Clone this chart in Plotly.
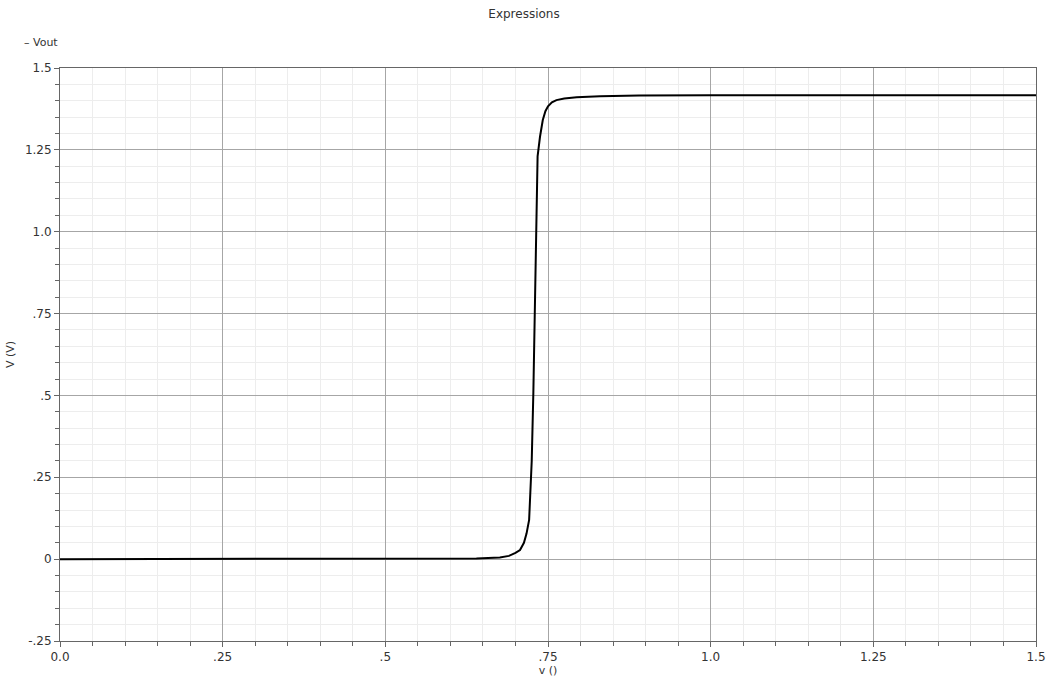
import plotly.graph_objects as go

# Data (DC sweep, Vout vs v)
series_name = "Vout"
x_vals = [0.0, 0.10, 0.20, 0.30, 0.40, 0.50, 0.60, 0.64, 0.676, 0.69, 0.70, 0.707,
          0.713, 0.717, 0.721, 0.723, 0.725, 0.7275, 0.730, 0.7325, 0.734, 0.7377,
          0.742, 0.746, 0.750, 0.756, 0.763, 0.775, 0.794, 0.83, 0.89, 1.0, 1.25, 1.5]
y_vals = [0.0, 0.0, 0.0, 0.0, 0.0, 0.0, 0.0, 0.002, 0.005, 0.010, 0.019, 0.028,
          0.050, 0.078, 0.120, 0.200, 0.300, 0.510, 0.750, 1.015, 1.230, 1.290,
          1.341, 1.368, 1.383, 1.395, 1.402, 1.407, 1.411, 1.414, 1.416, 1.4165, 1.417, 1.417]

x_tickvals = [0.0, 0.25, 0.5, 0.75, 1.0, 1.25, 1.5]
x_ticktext = ["0.0", ".25", ".5", ".75", "1.0", "1.25", "1.5"]
y_tickvals = [-0.25, 0.0, 0.25, 0.5, 0.75, 1.0, 1.25, 1.5]
y_ticktext = ["-.25", "0", ".25", ".5", ".75", "1.0", "1.25", "1.5"]

title_text = "Expressions"
x_title = "v ()"
y_title = "V (V)"

FONT = "DejaVu Sans"

fig = go.Figure()
fig.add_trace(go.Scatter(x=x_vals, y=y_vals, mode="lines", name=series_name,
                         line=dict(color="black", width=2), showlegend=False))

axis_common = dict(
    showline=True, linecolor="#666666", linewidth=1, mirror=True,
    showgrid=True, gridcolor="#a6a6a6", gridwidth=1,
    zeroline=False, automargin=False,
    ticks="outside", ticklen=5, tickcolor="#666666",
    tickfont=dict(family=FONT, size=12, color="#333333"),
    tickmode="array",
)

fig.update_xaxes(
    range=[0, 1.5], tickvals=x_tickvals, ticktext=x_ticktext,
    minor=dict(tickmode="linear", tick0=0, dtick=0.05, showgrid=True,
               gridcolor="#ededed", gridwidth=1, ticks="outside", ticklen=4,
               tickcolor="#666666"),
    title=dict(text=x_title, font=dict(family=FONT, size=11, color="#333333"), standoff=0),
    **axis_common,
)
fig.update_yaxes(
    range=[-0.25, 1.5], tickvals=y_tickvals, ticktext=y_ticktext,
    minor=dict(tickmode="linear", tick0=0, dtick=0.05, showgrid=True,
               gridcolor="#ededed", gridwidth=1, ticks="outside", ticklen=4,
               tickcolor="#666666"),
    title=dict(text=y_title, font=dict(family=FONT, size=11, color="#333333"), standoff=8),
    **axis_common,
)

fig.update_layout(
    width=1048, height=679,
    margin=dict(l=60, r=12, t=68, b=38),
    paper_bgcolor="white", plot_bgcolor="white",
    title=dict(text=title_text, x=0.5, xanchor="center", y=0.979, yanchor="middle",
               font=dict(family=FONT, size=12, color="#333333")),
    font=dict(family=FONT, size=11, color="#333333"),
    annotations=[dict(text="\u2013 " + series_name, xref="paper", yref="paper",
                      x=-0.039, y=1.045, xanchor="left", yanchor="middle",
                      showarrow=False, font=dict(family=FONT, size=11, color="#333333"))],
)

fig.write_html("out.html")
